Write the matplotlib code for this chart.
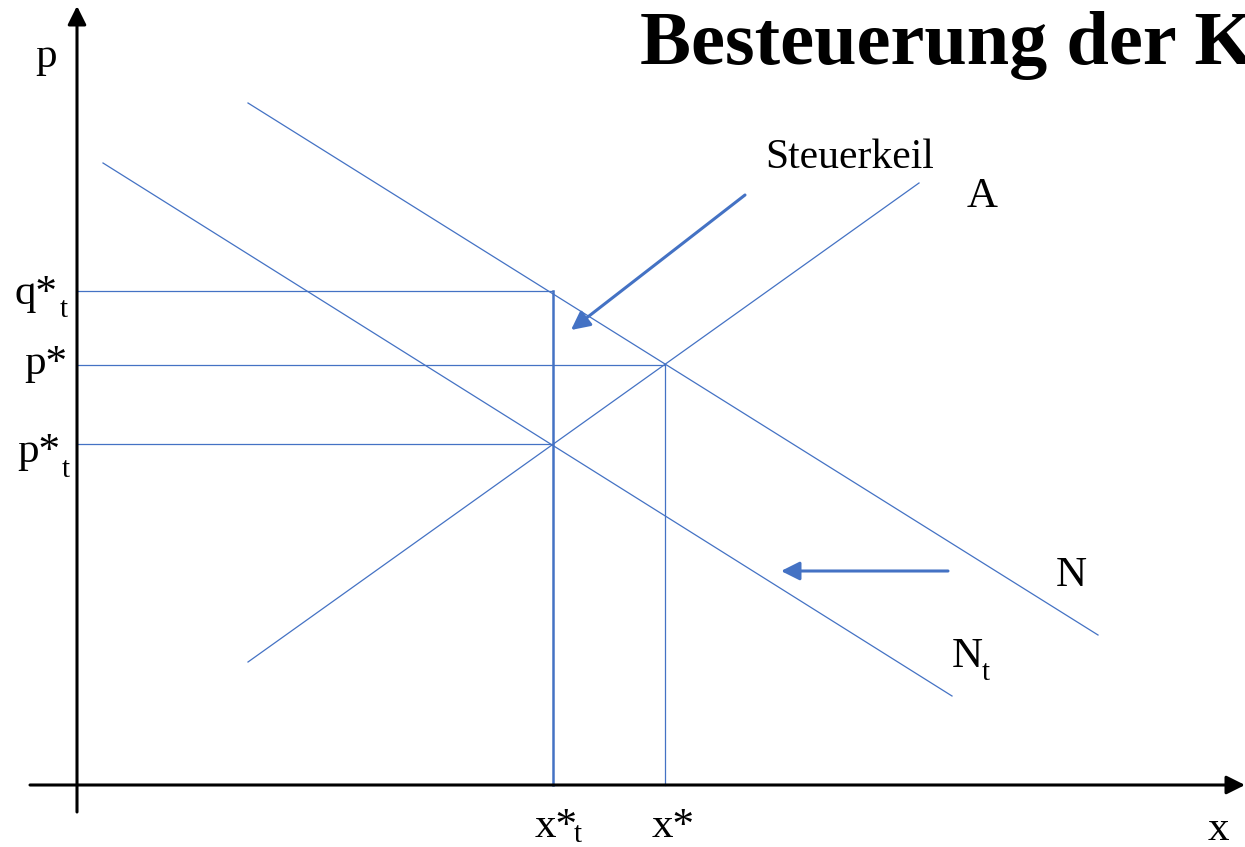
import matplotlib.pyplot as plt

# Diagram units: origin where the axes cross
blue = '#4472C4'

# curves: (x0, y0, x1, y1)
demand_N = [171, 682, 1021, 150]
demand_Nt = [26, 622, 875, 89]
supply_A = [171, 123, 842, 602]

# equilibrium values
x_star, p_star = 588, 420
x_t, p_t, q_t = 476, 341, 494

# arrows: (x_from, y_from, x_to, y_to)
wedge_arrow = [668, 590, 494, 455]
shift_arrow = [871, 214, 704, 214]

plt.rcParams['font.family'] = ['Liberation Serif', 'DejaVu Serif']

fig = plt.figure(figsize=(12.45, 8.47), dpi=100)
ax = fig.add_axes([0, 0, 1, 1])
ax.set_xlim(-77, 1168)
ax.set_ylim(-62, 785)
ax.axis('off')

# axes with arrow heads
ax.annotate('', xy=(0, 779), xytext=(0, -27),
            arrowprops=dict(arrowstyle='-|>', color='black', lw=2.2, mutation_scale=28,
                            shrinkA=0, shrinkB=0))
ax.annotate('', xy=(1168, 0), xytext=(-47, 0),
            arrowprops=dict(arrowstyle='-|>', color='black', lw=2.2, mutation_scale=28,
                            shrinkA=0, shrinkB=0))

# curves
for seg in [demand_N, demand_Nt, supply_A]:
    ax.plot([seg[0], seg[2]], [seg[1], seg[3]], color=blue, lw=0.9)

# guide lines
ax.plot([0, x_t], [q_t, q_t], color=blue, lw=0.9)
ax.plot([x_t, x_t], [0, q_t], color=blue, lw=1.8)
ax.plot([0, x_star], [p_star, p_star], color=blue, lw=0.9)
ax.plot([x_star, x_star], [0, p_star], color=blue, lw=0.9)
ax.plot([0, x_t], [p_t, p_t], color=blue, lw=0.9)

# arrows
for arr in [wedge_arrow, shift_arrow]:
    ax.annotate('', xy=(arr[2], arr[3]), xytext=(arr[0], arr[1]),
                arrowprops=dict(arrowstyle='-|>', color=blue, lw=2.2, mutation_scale=28,
                                shrinkA=0, shrinkB=0))

fs = 31
sub = 21
# y axis labels
ax.text(-31, 718, 'p', fontsize=fs, ha='center', va='baseline')
ax.text(-63, 481, 'q*', fontsize=fs, ha='left', va='baseline')
ax.text(-17, 468, 't', fontsize=sub, ha='left', va='baseline')
ax.text(-53, 411, 'p*', fontsize=fs, ha='left', va='baseline')
ax.text(-60, 323, 'p*', fontsize=fs, ha='left', va='baseline')
ax.text(-15, 308, 't', fontsize=sub, ha='left', va='baseline')

# x axis labels
ax.text(458, -52, 'x*', fontsize=fs, ha='left', va='baseline')
ax.text(497, -57, 't', fontsize=sub, ha='left', va='baseline')
ax.text(575, -52, 'x*', fontsize=fs, ha='left', va='baseline')
ax.text(1131, -55, 'x', fontsize=fs, ha='left', va='baseline')

# curve labels
ax.text(688, 617, 'Steuerkeil', fontsize=30, ha='left', va='baseline')
ax.text(890, 578, 'A', fontsize=fs, ha='left', va='baseline')
ax.text(979, 199, 'N', fontsize=fs, ha='left', va='baseline')
ax.text(875, 118, 'N', fontsize=fs, ha='left', va='baseline')
ax.text(905, 105, 't', fontsize=sub, ha='left', va='baseline')

# title (cut off at right edge as in the slide)
ax.text(563, 721, 'Besteuerung der K', fontsize=55, fontweight='bold',
        ha='left', va='baseline')

fig.savefig('out.png', dpi=100)
